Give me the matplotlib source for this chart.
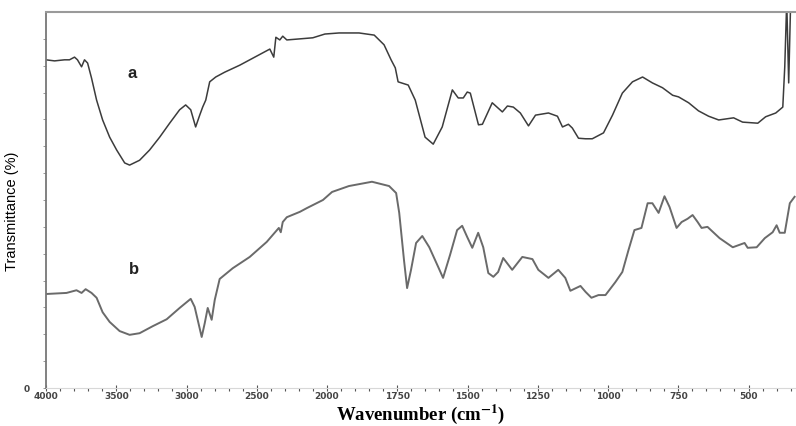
import numpy as np
import matplotlib
matplotlib.use("Agg")
import matplotlib.pyplot as plt

# FTIR spectra (wavenumber in cm-1, transmittance in %)
wn_a = [4000, 3939, 3904, 3868, 3833, 3797, 3776, 3747, 3726, 3704, 3676, 3640,
        3597, 3547, 3497, 3440, 3405, 3334, 3263, 3191, 3120, 3049, 3006, 2970,
        2935, 2906, 2885, 2863, 2835, 2792, 2728, 2621, 2514, 2407, 2379, 2364,
        2336, 2315, 2286, 2193, 2101, 2015, 1957, 1886, 1832, 1797, 1772, 1757,
        1747, 1711, 1686, 1651, 1622, 1590, 1554, 1533, 1515, 1501, 1490, 1461,
        1447, 1412, 1376, 1358, 1337, 1312, 1283, 1258, 1212, 1180, 1162, 1141,
        1127, 1105, 1080, 1056, 1016, 984, 949, 913, 877, 842, 806, 770, 749,
        713, 678, 642, 606, 553, 521, 467, 439, 403, 378, 371, 364, 357, 350, 332]
t_a = [61.1, 60.9, 61.0, 61.1, 61.1, 61.6, 61.1, 59.8, 61.1, 60.5, 57.7, 53.6,
       49.9, 46.7, 44.3, 41.9, 41.5, 42.4, 44.3, 46.7, 49.3, 51.8, 52.7, 51.8,
       48.6, 50.8, 52.3, 53.6, 57.0, 57.9, 58.8, 60.1, 61.6, 63.1, 61.6, 65.3,
       64.8, 65.5, 64.8, 65.0, 65.2, 65.9, 66.1, 66.1, 65.7, 63.9, 61.1, 59.6,
       57.0, 56.4, 53.6, 46.7, 45.4, 48.6, 55.5, 54.0, 54.0, 55.1, 54.9, 49.0,
       49.1, 53.1, 51.4, 52.5, 52.3, 51.2, 48.8, 50.8, 51.2, 50.6, 48.6, 49.1,
       48.4, 46.5, 46.4, 46.4, 47.5, 50.8, 54.9, 57.0, 57.9, 56.8, 55.9, 54.5,
       54.2, 53.1, 51.6, 50.6, 49.9, 50.3, 49.5, 49.3, 50.5, 51.2, 52.3, 59.8,
       72.0, 56.8, 72.0, 72.0]

wn_b = [4000, 3854, 3783, 3747, 3718, 3676, 3640, 3597, 3547, 3476, 3405, 3334,
        3241, 3141, 3049, 2970, 2942, 2892, 2870, 2849, 2821, 2799, 2764, 2671,
        2550, 2429, 2343, 2329, 2315, 2286, 2193, 2143, 2029, 1982, 1922, 1840,
        1779, 1754, 1743, 1726, 1715, 1701, 1683, 1661, 1636, 1604, 1587, 1562,
        1537, 1519, 1501, 1483, 1462, 1444, 1426, 1408, 1391, 1373, 1341, 1305,
        1269, 1248, 1212, 1177, 1152, 1134, 1098, 1080, 1059, 1034, 1009, 974,
        949, 927, 906, 881, 859, 842, 820, 799, 781, 756, 738, 717, 699, 681,
        667, 646, 603, 556, 514, 503, 471, 442, 414, 400, 389, 371, 353, 336]
t_b = [17.5, 17.7, 18.2, 17.7, 18.4, 17.7, 16.8, 14.1, 12.3, 10.6, 9.9, 10.2,
       11.5, 12.8, 14.9, 16.6, 15.1, 9.5, 12.1, 14.9, 12.7, 16.4, 20.3, 22.3,
       24.4, 27.2, 29.8, 29.0, 30.9, 31.8, 32.8, 33.5, 35.0, 36.5, 37.6, 38.4,
       37.6, 36.3, 32.6, 23.8, 18.6, 22.0, 27.0, 28.3, 26.2, 22.5, 20.5, 24.8,
       29.4, 30.2, 28.1, 26.1, 28.9, 26.2, 21.4, 20.7, 21.6, 24.2, 22.0, 24.4,
       24.0, 22.0, 20.5, 22.0, 20.5, 18.1, 19.0, 17.9, 16.8, 17.3, 17.3, 19.7,
       21.6, 25.7, 29.4, 29.8, 34.4, 34.4, 32.6, 35.7, 33.7, 29.8, 30.9, 31.5,
       32.2, 30.9, 29.8, 30.0, 27.9, 26.2, 27.0, 26.1, 26.2, 27.9, 29.0, 30.3,
       28.9, 28.9, 34.4, 35.6]

major_ticks = [4000, 3500, 3000, 2500, 2000, 1750, 1500, 1250, 1000, 750, 500]
minor_ticks = list(range(4000, 2000, -100)) + list(range(2000, 330, -50))


def fwd(w):
    # axis is stretched 2x below 2000 cm-1, as on the instrument printout
    w = np.asarray(w, dtype=float)
    return np.where(w >= 2000, w, 2 * w - 2000)


def inv(u):
    u = np.asarray(u, dtype=float)
    return np.where(u >= 2000, u, (u + 2000) / 2)


plt.rcParams['mathtext.fontset'] = 'stix'

fig = plt.figure(figsize=(7.96, 4.26), dpi=100)
ax = fig.add_axes([0.0578, 0.0892, 0.9422, 0.8826])

ax.plot(wn_a, t_a, color='#3c3c3c', linewidth=1.1)
ax.plot(wn_b, t_b, color='#6a6a6a', linewidth=1.4)

ax.set_xscale('function', functions=(fwd, inv))
ax.set_xlim(4000, 331)
ax.set_ylim(0, 70)

ax.set_xticks(major_ticks)
ax.set_xticklabels([str(t) for t in major_ticks])
ax.set_xticks([t for t in minor_ticks if t not in major_ticks], minor=True)
ax.set_yticks([0])
ax.set_yticklabels(['0'])
ax.set_yticks(np.arange(5, 70, 5), minor=True)

ax.tick_params(axis='x', which='major', direction='inout', length=4, width=0.8,
               color='#555555', labelsize=6.5, labelcolor='#444444', pad=1)
ax.tick_params(axis='x', which='minor', direction='out', length=2, width=0.8,
               color='#555555')
ax.tick_params(axis='y', which='both', direction='out', length=2, width=0.6,
               color='#888888', labelsize=6.5, labelcolor='#444444', pad=10)
for lbl in ax.get_xticklabels() + ax.get_yticklabels():
    lbl.set_fontweight('bold')

ax.spines['right'].set_visible(False)
ax.spines['top'].set_color('#9a9a9a')
ax.spines['top'].set_linewidth(1.5)
ax.spines['left'].set_color('#777777')
ax.spines['left'].set_linewidth(1.3)
ax.spines['bottom'].set_color('#d8d8d8')
ax.spines['bottom'].set_linewidth(0.8)

ax.text(3384, 58.6, 'a', fontsize=12, fontweight='bold', color='#222222',
        family='Liberation Sans', ha='center', va='center')
ax.text(3376, 22.0, 'b', fontsize=12, fontweight='bold', color='#222222',
        family='Liberation Sans', ha='center', va='center')

ax.set_xlabel(r'Wavenumber (cm$^{\mathbf{-1}}$)', family='Liberation Serif',
              fontsize=13.5, fontweight='bold', va='center')
ax.xaxis.set_label_coords(0.5, -0.071)
ax.set_ylabel('Transmittance (%)', family='Liberation Sans', fontsize=10.5)
ax.yaxis.set_label_coords(-0.036, 0.47)

fig.savefig('out.png', dpi=100)
